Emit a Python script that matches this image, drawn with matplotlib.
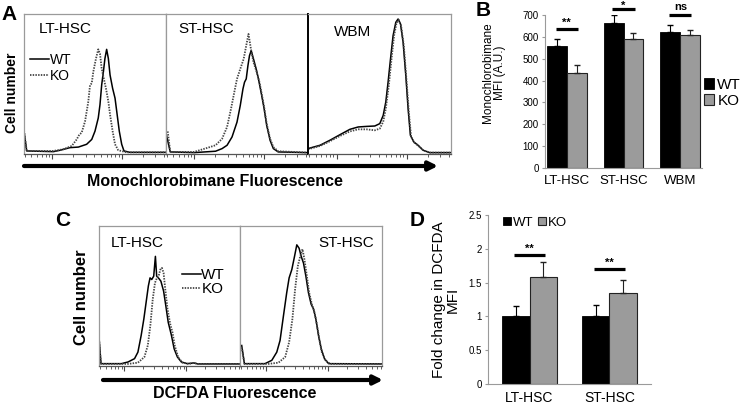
import numpy as np
import matplotlib
matplotlib.use("Agg")
import matplotlib.pyplot as plt

plt.rcParams['font.family'] = ['Liberation Sans', 'DejaVu Sans']

# ---- Panel A : monochlorobimane histograms (x = % of display range, y = % of box height)
a_lt_wt_x = [0, 1.9, 20.7, 25.4, 32.4, 38.3, 44.1, 47.7, 50.0, 52.3, 53.5, 54.7, 55.9, 57.0, 58.2,
             59.4, 60.6, 62.4, 64.1, 65.3, 67.1, 68.8, 70.4, 74.6, 100]
a_lt_wt_y = [15.5, 1.2, 0.7, 1.7, 3.6, 4.0, 6.0, 9.5, 15.5, 25, 34.5, 48.8, 58.3, 67.9, 74.5,
             67.9, 56, 46.4, 39.3, 29.8, 15.5, 6.0, 1.2, 0.2, 0.2]
a_lt_ko_x = [0, 1.9, 20.7, 27.7, 33.6, 37.1, 39.0, 40.6, 43.0, 45.3, 46.5, 47.7, 48.8, 50.7, 52.3,
             53.5, 54.7, 55.9, 57.7, 59.4, 60.6, 62.4, 64.1, 66.4, 72.3, 100]
a_lt_ko_y = [16, 1.2, 1.2, 2.4, 4.8, 9.5, 13.1, 14.3, 22.6, 36.9, 48.8, 50, 58.3, 67.9, 74.5,
             71.4, 60.7, 54.8, 46.4, 36.9, 27.4, 15.5, 6.0, 1.7, 0.2, 0.2]

a_st_wt_x = [0, 3, 19.8, 34.9, 39.5, 43, 46.5, 50, 52.3, 54.2, 55.3, 56.5, 57.7, 58.8, 60,
             61.6, 63.5, 65.1, 67.4, 69.1, 70.9, 73.3, 75.6, 79, 100]
a_st_wt_y = [14, 0.5, 0, 1, 2.9, 5.3, 11.3, 22, 34, 46, 50.8, 53.2, 62.8, 70, 73.6,
             67.6, 60.4, 53.2, 41.2, 31.7, 19.7, 8.9, 2.9, 0.5, 0]
a_st_ko_x = [1.2, 3, 19.8, 29, 34.9, 39.5, 43, 45.8, 48.1, 50, 52.3, 54.7, 56.5, 58.1,
             59.8, 61.6, 63.9, 65.8, 67.4, 69.1, 70.9, 73.3, 75.6, 79, 100]
a_st_ko_y = [15.3, 0.5, 0.5, 3.4, 5.3, 10, 18.5, 31.7, 43.6, 53.2, 60.4, 67.6, 77.2, 85.6,
             74.8, 65.2, 58, 50.8, 42.4, 32.9, 20.9, 10, 4, 1, 0]

a_wbm_wt_x = [0, 8.4, 15.3, 22.3, 29.3, 35.1, 40.9, 46.7, 50.2, 52.6, 54.4, 56, 57.7, 59.5, 61.4,
              63, 64.7, 66.5, 68.4, 70, 71.6, 74, 77, 80.5, 85.1, 100]
a_wbm_wt_y = [2.9, 5.3, 8.9, 12.9, 16.8, 18.5, 18.9, 19.2, 20.9, 26.9, 36.5, 50.8, 67.6, 84.4, 94,
              96.4, 92.8, 79.6, 55.6, 31.7, 12.5, 7.7, 5.3, 1.7, 0, 0]
a_wbm_ko_x = [0, 8.4, 15.3, 22.3, 29.3, 35.1, 40.9, 46.7, 50.2, 52.6, 54.4, 56.5, 58.4, 60.2, 61.9,
              63.5, 65.1, 67, 68.8, 70.5, 72.1, 74.4, 77.2, 80.9, 85.6, 100]
a_wbm_ko_y = [2.4, 4.8, 8.2, 12, 15.3, 16.8, 16.8, 16.1, 17.3, 22.3, 31.7, 48.4, 67.6, 84.4, 93.5,
              95.7, 91.6, 77.2, 53.2, 29.3, 11.3, 7.2, 4.8, 1.4, 0, 0]

# ---- Panel B : MFI bars
b_cats = ['LT-HSC', 'ST-HSC', 'WBM']
b_wt = [560, 664, 620]
b_ko = [434, 591, 610]
b_wt_err = [29, 38, 36]
b_ko_err = [35, 27, 20]
b_sig = ['**', '*', 'ns']
b_sig_y = [635, 727, 700]

# ---- Panel C : DCFDA histograms
c_lt_wt_x = [0, 1.4, 15.9, 20.6, 25.2, 27.6, 29.9, 31.8, 33.4, 35, 36.2, 37.4, 38.8, 40, 40.9,
             42.1, 43.9, 45.8, 47.4, 49.1, 51.4, 53.3, 55.6, 58.4, 62.6, 67.3, 70, 100]
c_lt_wt_y = [19.8, 0.7, 0.7, 1.9, 4.3, 9, 21, 32.9, 44.8, 56.7, 62.6, 61.4, 63.8, 78.1, 63.8,
             62.6, 60.2, 53.1, 42.4, 30.5, 21, 11.4, 5.5, 1.9, 0.7, 1.2, 0.5, 0.5]
c_lt_ko_x = [0, 1.4, 20.6, 27.6, 32.2, 34.6, 36.4, 38.1, 39.7, 41.1, 42.3, 43.5, 44.6, 45.8,
             47, 48.6, 50.5, 52.1, 53.7, 56.1, 59.1, 63.8, 67.3, 70, 100]
c_lt_ko_y = [18.6, 0.5, 0.5, 1.4, 5.5, 13.8, 28.1, 47.1, 59, 62.6, 63.8, 68.6, 69.8, 66.2,
             54.3, 40, 29.3, 23.3, 13.8, 5.5, 1.4, 0.5, 1.2, 0.5, 0.5]

c_st_wt_x = [1.2, 3.1, 17.6, 22.4, 25.9, 28.2, 30.6, 32.9, 34.6, 36.5, 38.4, 40, 41.6, 43.1,
             44.7, 46.4, 48.2, 50.1, 51.8, 53.4, 55.3, 57.2, 59.5, 62.4, 100]
c_st_wt_y = [13.8, 0.7, 0.7, 3.1, 9, 17.4, 35.2, 51.9, 62.6, 68.6, 78.1, 86.4, 84, 78.1,
             73.3, 63.8, 51.9, 43.6, 40, 32.9, 21, 11.4, 4.3, 0.7, 0.5]
c_st_ko_x = [1.2, 3.1, 20, 27.1, 31.8, 34.6, 36.9, 38.8, 40.7, 42.4, 44, 45.4, 47.1, 48.7,
             50.6, 52.5, 54.1, 55.8, 57.6, 60, 63.5, 100]
c_st_ko_y = [12.6, 0.5, 0.5, 1.4, 5.5, 16.2, 32.9, 54.3, 71, 78.1, 83.3, 75.7, 63.8, 51.9,
             43.6, 37.6, 29.3, 18.6, 9, 3.1, 0.5, 0.5]

# ---- Panel D : fold change bars
d_cats = ['LT-HSC', 'ST-HSC']
d_wt = [1.0, 1.0]
d_ko = [1.58, 1.35]
d_wt_err = [0.16, 0.17]
d_ko_err = [0.23, 0.19]
d_sig_y = [1.91, 1.70]

W, H = 750, 407
fig = plt.figure(figsize=(W / 100, H / 100), dpi=100)

BOX = '#9a9a9a'
KO_GRAY = '#9b9b9b'


def px_axes(x0, y0, x1, y1):
    return fig.add_axes([x0 / W, 1 - y1 / H, (x1 - x0) / W, (y1 - y0) / H])


def log_ticks(first, step):
    # decade positions in % of range plus log minor ticks
    major = [first, first + step]
    minor = []
    for d in [first - step, first, first + step]:
        for k in range(2, 10):
            p = d + step * np.log10(k)
            if 0 < p < 100:
                minor.append(p)
    return major, minor


def hist_box(rect, curves, first, step, dark_left=False):
    ax = px_axes(*rect)
    for xs, ys, ls in curves:
        if ls == 'solid':
            ax.plot(xs, ys, color='black', lw=1.1)
        else:
            ax.plot(xs, ys, color='#444444', lw=1.3, linestyle=(0, (0.8, 0.7)))
    ax.set_xlim(0, 100)
    ax.set_ylim(-1, 100)
    for s in ax.spines.values():
        s.set_color(BOX)
        s.set_linewidth(0.9)
    ax.spines['bottom'].set_color('#555555')
    if dark_left:
        ax.spines['left'].set_color('black')
        ax.spines['left'].set_linewidth(1.4)
    major, minor = log_ticks(first, step)
    ax.set_xticks(major)
    ax.set_xticks(minor, minor=True)
    ax.set_xticklabels([])
    ax.set_yticks([])
    ax.tick_params(axis='x', which='major', length=3.5, width=0.8, color='#444444', direction='out')
    ax.tick_params(axis='x', which='minor', length=2, width=0.6, color='#444444', direction='out')
    return ax


# ---------------- Panel A
a1 = hist_box((24, 14, 166, 154), [(a_lt_wt_x, a_lt_wt_y, 'solid'), (a_lt_ko_x, a_lt_ko_y, 'dot')], 20, 49)
a2 = hist_box((166, 14, 308, 154), [(a_st_wt_x, a_st_wt_y, 'solid'), (a_st_ko_x, a_st_ko_y, 'dot')], 20, 49)
a3 = hist_box((308, 14, 451, 154), [(a_wbm_wt_x, a_wbm_wt_y, 'solid'), (a_wbm_ko_x, a_wbm_ko_y, 'dot')], 20, 49,
              dark_left=True)
a1.lines[0].set_label('WT')
a1.lines[1].set_label('KO')
a1.legend(loc='upper left', bbox_to_anchor=(0.04, 0.72), frameon=False, fontsize=10,
          handlelength=1.4, handletextpad=0.05, labelspacing=0.1, borderpad=0, borderaxespad=0)
a1.text(0.29, 0.89, 'LT-HSC', transform=a1.transAxes, ha='center', va='center', fontsize=11)
a2.text(0.28, 0.89, 'ST-HSC', transform=a2.transAxes, ha='center', va='center', fontsize=11)
a3.text(0.31, 0.87, 'WBM', transform=a3.transAxes, ha='center', va='center', fontsize=11)

fig.text(9 / W, 1 - 15 / H, 'A', fontsize=15, fontweight='bold', ha='center', va='center')
fig.text(12 / W, 1 - 93 / H, 'Cell number', fontsize=10, fontweight='bold', rotation=90,
         ha='center', va='center')
fig.text(215 / W, 1 - 182 / H, 'Monochlorobimane Fluorescence', fontsize=11.5, fontweight='bold',
         ha='center', va='center')
a1.annotate('', xy=(438, H - 166), xytext=(24, H - 166), xycoords='figure pixels',
            textcoords='figure pixels',
            arrowprops=dict(arrowstyle='-|>', lw=3, color='black', mutation_scale=13, shrinkA=0, shrinkB=0))

# ---------------- Panel B
axb = px_axes(545, 15, 702, 168)
xb = np.arange(len(b_cats))
bw = 0.35
axb.bar(xb - bw / 2, b_wt, bw, color='black', edgecolor='black', lw=0.6, label='WT')
axb.bar(xb + bw / 2, b_ko, bw, color=KO_GRAY, edgecolor='#222222', lw=0.8, label='KO')
axb.errorbar(xb - bw / 2, b_wt, yerr=[np.zeros(3), b_wt_err], fmt='none', ecolor='black',
             elinewidth=0.8, capsize=2)
axb.errorbar(xb + bw / 2, b_ko, yerr=[np.zeros(3), b_ko_err], fmt='none', ecolor='#222222',
             elinewidth=0.8, capsize=2)
for i, (s, y) in enumerate(zip(b_sig, b_sig_y)):
    axb.plot([i - bw / 2 - 0.02, i + bw / 2 + 0.02], [y, y], color='black', lw=2.3, clip_on=False,
             solid_capstyle='butt')
    if s == 'ns':
        axb.text(i, y + 12, s, ha='center', va='bottom', fontsize=8, fontweight='bold', clip_on=False)
    elif s == '*':
        axb.text(i, y + 13, s, ha='center', va='center', fontsize=8, fontweight='bold', clip_on=False)
    else:
        axb.text(i, y + 4, s, ha='center', va='bottom', fontsize=8, fontweight='bold', clip_on=False)
axb.set_xlim(-0.38, 2.38)
axb.set_ylim(0, 700)
axb.set_yticks(range(0, 701, 100))
axb.set_xticks(xb, b_cats)
axb.tick_params(axis='y', labelsize=7, length=2.5, color=BOX, pad=2)
axb.tick_params(axis='x', labelsize=9.5, length=0, pad=5)
for s in ['top', 'right']:
    axb.spines[s].set_visible(False)
for s in ['left', 'bottom']:
    axb.spines[s].set_color(BOX)
axb.set_ylabel('Monochlorobimane\nMFI (A.U.)', fontsize=8.5, linespacing=1.0)
axb.yaxis.set_label_coords(-0.25, 0.62)
axb.legend(loc='center left', bbox_to_anchor=(1.0, 0.49), frameon=False, fontsize=11,
           handlelength=0.7, handleheight=0.7, handletextpad=0.2, labelspacing=0.15,
           borderpad=0, borderaxespad=0.1)
fig.text(483 / W, 1 - 11 / H, 'B', fontsize=15, fontweight='bold', ha='center', va='center')

# ---------------- Panel C
c1 = hist_box((99, 226, 240, 366), [(c_lt_wt_x, c_lt_wt_y, 'solid'), (c_lt_ko_x, c_lt_ko_y, 'dot')], 18, 44)
c2 = hist_box((240, 226, 382, 366), [(c_st_wt_x, c_st_wt_y, 'solid'), (c_st_ko_x, c_st_ko_y, 'dot')], 18, 44)
c1.lines[0].set_label('WT')
c1.lines[1].set_label('KO')
c1.legend(loc='upper left', bbox_to_anchor=(0.59, 0.70), frameon=False, fontsize=11,
          handlelength=1.2, handletextpad=0.05, labelspacing=0.0, borderpad=0, borderaxespad=0)
c1.text(0.27, 0.88, 'LT-HSC', transform=c1.transAxes, ha='center', va='center', fontsize=11)
c2.text(0.75, 0.88, 'ST-HSC', transform=c2.transAxes, ha='center', va='center', fontsize=11)

fig.text(63 / W, 1 - 220 / H, 'C', fontsize=15, fontweight='bold', ha='center', va='center')
fig.text(82 / W, 1 - 297 / H, 'Cell number', fontsize=12, fontweight='bold', rotation=90,
         ha='center', va='center')
fig.text(235 / W, 1 - 394 / H, 'DCFDA Fluorescence', fontsize=11.5, fontweight='bold',
         ha='center', va='center')
c1.annotate('', xy=(383, H - 380), xytext=(103, H - 380), xycoords='figure pixels',
            textcoords='figure pixels',
            arrowprops=dict(arrowstyle='-|>', lw=3, color='black', mutation_scale=13, shrinkA=0, shrinkB=0))

# ---------------- Panel D
axd = px_axes(488, 215, 651, 384)
xd = np.arange(len(d_cats))
dw = 0.34
axd.bar(xd - dw / 2, d_wt, dw, color='black', edgecolor='black', lw=0.6, label='WT')
axd.bar(xd + dw / 2, d_ko, dw, color=KO_GRAY, edgecolor='#222222', lw=0.8, label='KO')
axd.errorbar(xd - dw / 2, d_wt, yerr=[np.zeros(2), d_wt_err], fmt='none', ecolor='black',
             elinewidth=0.8, capsize=2)
axd.errorbar(xd + dw / 2, d_ko, yerr=[np.zeros(2), d_ko_err], fmt='none', ecolor='#222222',
             elinewidth=0.8, capsize=2)
for i, y in enumerate(d_sig_y):
    axd.plot([i - dw / 2 - 0.02, i + dw / 2 + 0.02], [y, y], color='black', lw=2.3,
             solid_capstyle='butt')
    axd.text(i, y + 0.02, '**', ha='center', va='bottom', fontsize=8, fontweight='bold')
axd.set_xlim(-0.52, 1.52)
axd.set_ylim(0, 2.5)
axd.set_yticks([0, 0.5, 1, 1.5, 2, 2.5], ['0', '0.5', '1', '1.5', '2', '2.5'])
axd.set_xticks(xd, d_cats)
axd.tick_params(axis='y', labelsize=7, length=2.5, color=BOX, pad=2)
axd.tick_params(axis='x', labelsize=10, length=0, pad=5)
for s in ['top', 'right']:
    axd.spines[s].set_visible(False)
for s in ['left', 'bottom']:
    axd.spines[s].set_color(BOX)
axd.set_ylabel('Fold change in DCFDA\nMFI', fontsize=11, labelpad=6, linespacing=1.0)
axd.legend(loc='upper left', bbox_to_anchor=(0.09, 0.99), ncol=2, frameon=False, fontsize=9.5,
           handlelength=0.6, handleheight=0.6, handletextpad=0.15, columnspacing=0.4,
           borderpad=0, borderaxespad=0)
fig.text(417 / W, 1 - 220 / H, 'D', fontsize=15, fontweight='bold', ha='center', va='center')

fig.savefig('out.png', dpi=100, facecolor='white')
